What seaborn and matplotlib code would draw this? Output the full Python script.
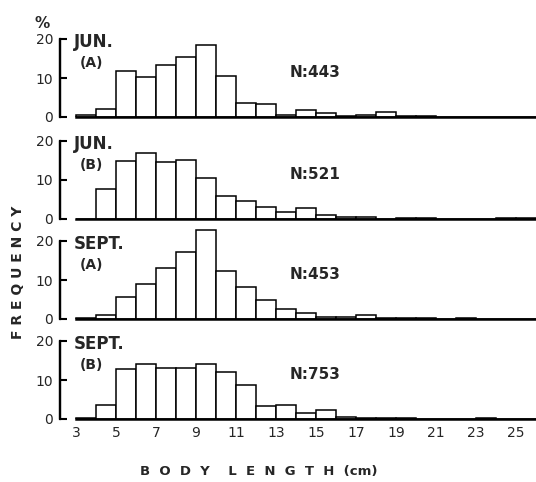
import numpy as np
import seaborn as sns
import matplotlib.pyplot as plt

# body length bins (cm), lower edge of each 1 cm class
bin_edges = list(range(3, 27))
lengths = [b + 0.5 for b in bin_edges[:-1]]

jun_a = [0.4, 2.1, 11.9, 10.3, 13.4, 15.3, 18.5, 10.5, 3.6, 3.4, 0.6, 1.9, 1.0,
         0.3, 0.4, 1.3, 0.3, 0.2, 0.1, 0.1, 0.1, 0.1, 0.1]
jun_b = [0.1, 7.7, 14.8, 17.0, 14.5, 15.0, 10.6, 6.0, 4.5, 3.2, 1.9, 2.9, 1.1,
         0.5, 0.5, 0.1, 0.2, 0.2, 0.1, 0.1, 0.1, 0.2, 0.2]
sept_a = [0.2, 0.9, 5.6, 9.1, 13.1, 17.1, 22.8, 12.4, 8.2, 4.9, 2.5, 1.6, 0.5,
          0.5, 1.1, 0.2, 0.2, 0.2, 0.1, 0.2, 0.1, 0.1, 0.1]
sept_b = [0.2, 3.6, 12.7, 14.0, 13.2, 13.0, 14.1, 12.0, 8.6, 3.3, 3.5, 1.5, 2.2,
          0.4, 0.3, 0.2, 0.2, 0.1, 0.1, 0.1, 0.2, 0.1, 0.1]

series = [jun_a, jun_b, sept_a, sept_b]
titles = ["JUN.", "JUN.", "SEPT.", "SEPT."]
subs = ["(A)", "(B)", "(A)", "(B)"]
counts = ["N:443", "N:521", "N:453", "N:753"]
xticks = list(range(3, 26, 2))

sns.set_style("white")
plt.rcParams['font.family'] = ['DejaVu Sans']

fig = plt.figure(figsize=(5.36, 4.82), dpi=100)
bottoms_px = [117, 219, 319, 419]

for i, vals in enumerate(series):
    b = 1 - bottoms_px[i] / 482
    ax = fig.add_axes([60 / 536, b, 476 / 536, 89.7 / 482])
    sns.histplot(x=lengths, weights=vals, bins=bin_edges, stat="count",
                 color="white", edgecolor="black", linewidth=1.1, alpha=1, ax=ax)
    ax.set_xlim(2.2, 26)
    ax.set_ylim(0, 23)
    ax.set_ylabel("")
    ax.set_xlabel("")
    ax.set_xticks(xticks)
    if i == 3:
        ax.tick_params(axis="x", length=0, pad=5, labelsize=10)
    else:
        ax.tick_params(axis="x", length=0, labelbottom=False)
    ax.set_yticks([0, 10, 20])
    ax.tick_params(axis="y", left=True, direction="in", length=5, width=1.5,
                   pad=5, labelsize=10, color="black")

    ax.text(2.9, 19.3, titles[i], fontsize=12, fontweight="bold",
            va="center", ha="left")
    ax.text(3.2, 13.8, subs[i], fontsize=10, fontweight="bold",
            va="center", ha="left")
    ax.text(13.7, 11.4, counts[i], fontsize=11, fontweight="bold",
            va="center", ha="left")
    if i == 0:
        ax.text(1.3, 24.1, "%", fontsize=11, fontweight="bold",
                va="center", ha="center", clip_on=False)

    sns.despine(ax=ax)
    ax.patch.set_alpha(0)
    ax.spines["left"].set_bounds(0, 20)
    ax.spines["left"].set_linewidth(1.6)
    ax.spines["left"].set_color("black")
    ax.spines["bottom"].set_bounds(3, 26)
    ax.spines["bottom"].set_linewidth(1.8)
    ax.spines["bottom"].set_color("black")
    # y axis line, in case the spine is not drawn
    ax.plot([0, 0], [0, 20], color="black", lw=1.6, zorder=6, clip_on=False,
            transform=ax.get_yaxis_transform())

fig.text(18 / 536, 1 - 272 / 482, "F R E Q U E N C Y", rotation=90,
         fontsize=10, fontweight="bold", va="center", ha="center")
fig.text(259 / 536, 1 - 472 / 482, "B  O  D  Y    L  E  N  G  T  H  (cm)",
         fontsize=9.5, fontweight="bold", va="center", ha="center")

fig.savefig("out.png", dpi=100)
